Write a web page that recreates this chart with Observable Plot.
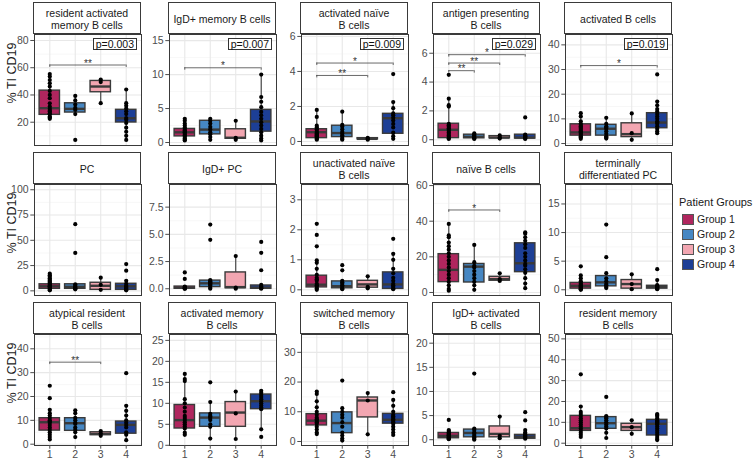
<!DOCTYPE html>
<html>
<head>
<meta charset="utf-8">
<script src="https://cdn.jsdelivr.net/npm/d3@7"></script>
<script src="https://cdn.jsdelivr.net/npm/@observablehq/plot@0.6"></script>
<style>
  body { margin: 0; background: #fff; font-family: "Liberation Sans", Arial, sans-serif; }
  #chart { position: relative; width: 753px; height: 460px; overflow: hidden; background: #fff; }
  .strip { position: absolute; box-sizing: border-box; border: 1px solid #3a3a3a; background: #fff;
           display: flex; align-items: center; justify-content: center; text-align: center;
           font-size: 10.5px; line-height: 12px; color: #1a1a1a; white-space: pre-line; padding-top: 2px; }
  .pbox { position: absolute; box-sizing: border-box; border: 1px solid #333; background: #fff;
          font-size: 10.5px; line-height: 10px; padding: 0 2px; color: #111; white-space: nowrap; }
  .ylab { position: absolute; font-size: 12.5px; color: #1a1a1a; white-space: nowrap;
          transform: translate(-50%, -50%) rotate(-90deg); }
  .legtitle { position: absolute; font-size: 11px; color: #1a1a1a; white-space: nowrap; }
  .legkey { position: absolute; box-sizing: border-box; border: 1px solid #555; width: 12px; height: 11px; }
  .leglab { position: absolute; font-size: 10.5px; color: #1a1a1a; white-space: nowrap; line-height: 11px; }
</style>
</head>
<body>
<div id="chart"></div>
<script>
// ---------------- data ----------------
const groupLabels = ["Group 1", "Group 2", "Group 3", "Group 4"];
const groupColors = ["#b0265e", "#4687c3", "#f2a6b1", "#1d3f96"];
const xTickLabels = ["1", "2", "3", "4"];
const yAxisTitle = "% TI CD19";
const legendTitle = "Patient Groups";

const facetTitles = [
  "resident activated\nmemory B cells", "IgD+ memory B cells", "activated naïve\nB cells",
  "antigen presenting\nB cells", "activated B cells",
  "PC", "IgD+ PC", "unactivated naïve\nB cells", "naïve B cells", "terminally\ndifferentiated PC",
  "atypical resident\nB cells", "activated memory\nB cells", "switched memory\nB cells",
  "IgD+ activated\nB cells", "resident memory\nB cells"
];

const yDomains = [
  [2.9, 84.4], [-0.44, 15.9], [-0.23, 6.11], [-0.4, 7.3], [-0.8, 44.2],
  [-4.6, 105.2], [-0.62, 9.58], [-0.19, 3.51], [-1.7, 60.6], [-1.0, 18.4],
  [-0.55, 46], [-0.05, 26.4], [-1.35, 36], [-1.2, 21.8], [-1.1, 52.1]
];

const yTicks = [
  [20, 40, 60, 80], [0, 5, 10, 15], [0, 2, 4, 6], [0, 2, 4, 6], [0, 10, 20, 30, 40],
  [0, 25, 50, 75, 100], [0, 2.5, 5, 7.5], [0, 1, 2, 3], [0, 20, 40, 60], [0, 5, 10, 15],
  [0, 10, 20, 30, 40], [0, 5, 10, 15, 20, 25], [0, 10, 20, 30], [0, 5, 10, 15, 20], [0, 10, 20, 30, 40, 50]
];

const pLabels = ["p=0.003", "p=0.007", "p=0.009", "p=0.029", "p=0.019",
  null, null, null, null, null, null, null, null, null, null];

// [groupA, groupB, y, stars]
const brackets = [
  [[1, 4, 62, "**"]],
  [[1, 4, 11.0, "*"]],
  [[1, 4, 4.48, "*"], [1, 3, 3.77, "**"]],
  [[1, 2, 4.79, "**"], [1, 3, 5.32, "**"], [1, 4, 5.9, "*"]],
  [[1, 4, 31.6, "*"]],
  [], [], [],
  [[1, 3, 46.3, "*"]],
  [],
  [[1, 3, 34.4, "**"]],
  [], [], [], []
];

// per facet, per group: [lower whisker, Q1, median, Q3, upper whisker]
const boxStats = [
  [[22.5, 25.4, 30.3, 43.2, 55.4], [25.5, 27.1, 29.8, 33.9, 39.3], [34, 42, 46.2, 50.3, 51.3], [7, 19.8, 22.9, 29.1, 44]],
  [[0.3, 0.9, 1.5, 2.0, 3.5], [0.4, 1.2, 1.9, 3.2, 3.5], [0.4, 0.55, 0.7, 1.95, 3.2], [0.3, 1.6, 3.1, 4.8, 10]],
  [[0.1, 0.19, 0.53, 0.7, 1.8], [0.1, 0.25, 0.48, 0.9, 1.7], [0.1, 0.12, 0.15, 0.19, 0.2], [0.15, 0.44, 1.33, 1.58, 2.25]],
  [[0.05, 0.11, 0.69, 1.11, 2.85], [0.05, 0.1, 0.2, 0.35, 0.45], [0.08, 0.1, 0.15, 0.25, 0.3], [0.05, 0.08, 0.15, 0.35, 0.35]],
  [[1.9, 3.2, 4.5, 7.8, 12.3], [2, 3.2, 6, 7.6, 10.4], [1.5, 2.6, 3.8, 8.2, 12.2], [4.2, 6.2, 8.5, 12.3, 17]],
  [[0.5, 2, 4.5, 6.5, 17], [1.5, 2, 4, 6.5, 6.5], [0.5, 1, 5, 8, 13], [0.5, 1, 4.5, 7, 10]],
  [[0, 0, 0.1, 0.2, 0.2], [0, 0.15, 0.5, 0.75, 0.8], [0, 0.05, 0.15, 1.5, 3.0], [0, 0, 0.1, 0.3, 0.35]],
  [[0, 0.08, 0.17, 0.47, 1.0], [0.02, 0.05, 0.12, 0.28, 0.3], [0.05, 0.07, 0.18, 0.3, 0.45], [0.02, 0.03, 0.18, 0.58, 1.2]],
  [[1, 5.8, 12.7, 21.5, 38.5], [1.5, 5.6, 14.5, 16, 26.7], [6.5, 6.6, 7.5, 8.8, 10.8], [2.4, 11.4, 16.4, 27.6, 33.8]],
  [[0, 0.2, 0.7, 1.2, 2.5], [0.3, 0.6, 1.3, 2.4, 2.9], [0.1, 0.2, 1.0, 1.7, 2.7], [0.1, 0.2, 0.5, 0.7, 1.7]],
  [[2, 5.7, 9.2, 10.9, 14.4], [3, 5.6, 8.8, 10.9, 14.2], [3.5, 3.8, 4.3, 5.0, 5.5], [1.7, 4.4, 8.1, 9.5, 16.1]],
  [[2.5, 4.0, 6.0, 9.6, 17], [1.6, 4.4, 6.6, 7.6, 10.3], [1.5, 4.4, 7.8, 10.3, 12.8], [3.8, 8.6, 10.5, 12.1, 13]],
  [[2.5, 5.4, 7.0, 9.2, 16.8], [0.3, 2.8, 6.2, 9.8, 11.2], [2.4, 8.1, 13.8, 14.8, 16.3], [2.2, 6.0, 7.3, 9.3, 14]],
  [[0.1, 0.3, 0.8, 1.4, 2], [0, 0.5, 1.4, 2.1, 2.4], [0.3, 0.5, 1.2, 2.75, 4.8], [0.2, 0.2, 0.6, 1.0, 1.5]],
  [[3, 5.9, 7.2, 13.1, 17.6], [2.5, 6.9, 9.6, 12.5, 13], [4.5, 5.9, 7.7, 9.3, 11], [1.5, 3.7, 9.3, 11.2, 14]]
];

// per facet, per group: individual patient values
const pointValues = [
  [[55.4, 53.5, 51, 48.6, 46.2, 43, 40, 37.6, 33.9, 31.5, 29.8, 28.5, 27.8, 26.5, 25.9, 24.2, 23.5, 22.5],
   [39.3, 36, 33, 30.5, 29, 26, 7], [51.3, 49.5, 34],
   [44, 34, 32, 30, 28, 26, 23, 21.8, 19.5, 16, 13, 10, 7]],
  [[3.5, 3.2, 2.8, 2.5, 2.2, 2.0, 1.8, 1.6, 1.5, 1.3, 1.1, 1.0, 0.8, 0.6, 0.4, 0.3],
   [3.5, 3.2, 2.8, 2.3, 1.9, 1.5, 1.2, 0.8, 0.4], [3.2, 0.7, 0.4],
   [10, 6.7, 6.0, 5.2, 4.5, 4.0, 3.5, 3.0, 2.5, 2.0, 1.5, 1.0, 0.6, 0.3]],
  [[1.8, 1.4, 0.9, 0.8, 0.7, 0.6, 0.5, 0.45, 0.4, 0.35, 0.3, 0.25, 0.2, 0.15, 0.1],
   [1.7, 0.95, 0.85, 0.7, 0.55, 0.45, 0.35, 0.25, 0.15, 0.1], [0.2, 0.15, 0.1],
   [3.85, 2.25, 1.9, 1.6, 1.5, 1.35, 1.2, 1.0, 0.8, 0.5, 0.3, 0.15]],
  [[4.5, 2.85, 2.4, 2.3, 1.1, 1.0, 0.9, 0.8, 0.7, 0.6, 0.5, 0.4, 0.3, 0.2, 0.1, 0.05],
   [0.45, 0.35, 0.3, 0.2, 0.15, 0.1, 0.05], [0.3, 0.15, 0.08],
   [1.55, 0.35, 0.3, 0.25, 0.2, 0.15, 0.1, 0.05]],
  [[12.3, 11, 9, 8, 7.5, 7, 6.5, 6, 5.5, 5, 4.5, 4, 3.5, 3, 2.5, 1.9],
   [10.4, 8, 7, 6.5, 6, 5, 4, 3, 2.5, 2], [12.2, 4.2, 1.5],
   [28, 17, 15.5, 14, 13, 12, 11, 10, 9, 8.5, 8, 7, 6, 5, 4.2]],
  [[17, 15.5, 14, 12.5, 11, 10, 9, 8, 7, 6, 5, 4.5, 4, 3, 2, 1, 0.5],
   [66, 37.5, 6.5, 5, 4, 3, 2.5, 2, 1.5], [13, 6, 1],
   [26.5, 20, 10, 7, 5, 4, 3, 2, 1, 0.5]],
  [[1.5, 0.9, 0.2, 0.15, 0.1, 0.05, 0, 0],
   [5.9, 4.5, 0.8, 0.7, 0.6, 0.5, 0.4, 0.3, 0.1, 0], [3.0, 0.1, 0],
   [4.3, 3.3, 1.7, 0.35, 0.2, 0.1, 0.05, 0]],
  [[2.2, 1.83, 1.45, 0.98, 0.9, 0.7, 0.5, 0.4, 0.35, 0.3, 0.2, 0.15, 0.1, 0.05, 0],
   [0.82, 0.65, 0.3, 0.25, 0.2, 0.15, 0.1, 0.05, 0.02], [0.45, 0.1, 0.05],
   [1.7, 1.2, 1.0, 0.7, 0.55, 0.4, 0.3, 0.2, 0.15, 0.1, 0.05, 0.02]],
  [[38.5, 32, 31, 28, 26, 24, 22, 20, 18, 16, 14, 12, 10, 8, 6, 4, 2, 1],
   [26.7, 17, 15, 14, 12, 10, 8, 6, 4, 1.5], [10.8, 7.5, 6.5],
   [33.8, 33, 31, 29, 27, 25, 22, 20, 18, 16, 15, 13, 11, 8, 5, 2.4]],
  [[4.1, 2.5, 2.0, 1.5, 1.2, 1.0, 0.8, 0.6, 0.4, 0.3, 0.2, 0.1, 0],
   [11.4, 5.7, 2.9, 2.0, 1.5, 1.0, 0.8, 0.5, 0.3], [2.7, 1.0, 0.1],
   [3.6, 1.7, 0.8, 0.6, 0.5, 0.4, 0.3, 0.2, 0.1]],
  [[24.5, 19.3, 14.4, 13, 12, 11, 10, 9.5, 9, 8, 7, 6, 5, 4, 3, 2],
   [14.2, 13, 11, 10, 9, 8.5, 7, 6, 5, 3], [5.5, 4.5, 3.5],
   [29.8, 16.1, 14, 12, 10, 9, 8, 7, 5, 4, 1.7]],
  [[17, 15.8, 15.3, 11, 10, 9, 8, 7, 6.5, 6, 5.5, 5, 4.5, 4, 3, 2.5],
   [15, 10.3, 7.5, 7, 6.8, 6.5, 6, 5, 4.4, 1.6], [12.8, 7.6, 1.5],
   [13, 12.5, 12, 11.5, 11, 10.5, 10, 9.5, 9, 8.6, 3.8, 2.0]],
  [[16.8, 16, 13.5, 11.5, 10, 9, 8, 7.5, 7, 6.5, 6, 5, 4, 3, 2.5],
   [20.5, 11.2, 10, 9, 8, 6.5, 5, 3, 2, 1, 0.3], [16.3, 13.8, 2.4],
   [16.6, 14, 12, 10, 9, 8.5, 8, 7.5, 7, 6.5, 6, 5, 4, 3, 2.2]],
  [[4.1, 2, 1.8, 1.5, 1.3, 1.1, 0.9, 0.8, 0.6, 0.5, 0.3, 0.2, 0.1],
   [13.7, 2.3, 2.0, 1.5, 1.2, 0.8, 0.5, 0.2, 0], [4.8, 0.8, 0.3],
   [5.7, 4.0, 2, 1.5, 1.2, 1.0, 0.8, 0.6, 0.4, 0.2]],
  [[33, 17.6, 15, 14, 13, 12, 11, 10, 9, 8, 7, 6, 5, 4, 3],
   [22.2, 13, 12.5, 12, 11, 10, 9, 8, 7, 5, 2.5], [11, 7.7, 4.5],
   [14, 13.5, 13, 12, 11, 10.5, 10, 9.5, 9, 8, 7, 6, 5, 4, 3, 2, 1.5]]
];

// ---------------- layout ----------------
const colLeft = [33, 168, 300, 432, 564];
const rowTop = [33, 183, 333];
const PW = 107, PH = 111, STRIP = 31;
const ML = 36, MR = 2, MT = 2;
const BOXW = 0.4;
const lineCol = "#3a3a3a";
const chart = document.getElementById("chart");

function el(cls, text, css) {
  const d = document.createElement("div");
  d.className = cls;
  if (text != null) d.textContent = text;
  Object.assign(d.style, css);
  chart.appendChild(d);
  return d;
}

facetTitles.forEach((title, i) => {
  const c = i % 5, r = Math.floor(i / 5);
  const left = colLeft[c], top = rowTop[r];
  const bottomRow = r === 2;
  const MB = bottomRow ? 22 : 2;

  el("strip", title, {left: left + "px", top: (top - STRIP) + "px", width: (PW + 1) + "px", height: (STRIP + 1) + "px"});

  const [d0, d1] = yDomains[i];
  const ticks = yTicks[i];
  const step = ticks[1] - ticks[0];
  const minor = [];
  for (let k = -1; k < ticks.length; k++) {
    const m = ticks[0] + (k + 0.5) * step;
    if (m > d0 && m < d1) minor.push(m);
  }
  const fmt = ticks.some(t => !Number.isInteger(t)) ? (t => t.toFixed(1)) : (t => String(t));
  const boxes = boxStats[i].map((s, g) => ({g: g + 1, lo: s[0], q1: s[1], med: s[2], q3: s[3], hi: s[4], color: groupColors[g]}));
  const pts = pointValues[i].flatMap((arr, g) => arr.map(v => ({g: g + 1, v})));
  const br = brackets[i].map(([a, b, y, label]) => ({a, b, y, label}));
  const tickLen = (d1 - d0) * 0.022;

  const svg = Plot.plot({
    width: ML + PW + MR,
    height: MT + PH + MB,
    marginLeft: ML, marginRight: MR, marginTop: MT, marginBottom: MB,
    x: {domain: [0.4, 4.6], axis: null},
    y: {domain: [d0, d1], axis: null},
    color: {type: "identity"},
    style: {background: "transparent", fontFamily: "'Liberation Sans', Arial, sans-serif", fontSize: "10.5px", overflow: "visible"},
    marks: [
      Plot.gridY(minor, {stroke: "#f2f2f2", strokeOpacity: 1, strokeWidth: 0.6}),
      Plot.gridY(ticks, {stroke: "#e8e8e8", strokeOpacity: 1, strokeWidth: 1.1}),
      Plot.gridX([1, 2, 3, 4], {stroke: "#e8e8e8", strokeOpacity: 1, strokeWidth: 1.1}),
      Plot.ruleX(boxes, {x: "g", y1: "lo", y2: "hi", stroke: lineCol, strokeWidth: 1.1}),
      Plot.rect(boxes, {x1: d => d.g - BOXW, x2: d => d.g + BOXW, y1: "q1", y2: "q3", fill: "color", stroke: lineCol, strokeWidth: 1.4}),
      Plot.ruleY(boxes, {x1: d => d.g - BOXW, x2: d => d.g + BOXW, y: "med", stroke: lineCol, strokeWidth: 2.4}),
      Plot.dot(pts, {x: "g", y: "v", r: 2.1, fill: "#000"}),
      Plot.ruleY(br, {x1: "a", x2: "b", y: "y", stroke: "#444", strokeWidth: 0.8}),
      Plot.ruleX(br, {x: "a", y1: d => d.y - tickLen, y2: "y", stroke: "#444", strokeWidth: 0.8}),
      Plot.ruleX(br, {x: "b", y1: d => d.y - tickLen, y2: "y", stroke: "#444", strokeWidth: 0.8}),
      Plot.text(br, {x: d => (d.a + d.b) / 2, y: "y", text: "label", dy: -1.5, fontSize: 10, fill: "#333"}),
      Plot.frame({stroke: lineCol, strokeWidth: 1}),
      Plot.axisY(ticks, {tickSize: 3.7, tickPadding: 2.2, tickFormat: fmt, color: "#4d4d4d", fontSize: 10.5, label: null}),
      bottomRow ? Plot.axisX([1, 2, 3, 4], {tickSize: 3.7, tickPadding: 1.5, tickFormat: d => xTickLabels[d - 1], color: "#4d4d4d", fontSize: 10.5, label: null}) : null
    ]
  });
  svg.style.position = "absolute";
  svg.style.left = (left - ML + 0.5) + "px";
  svg.style.top = (top - MT + 0.5) + "px";
  svg.style.maxWidth = "none";
  chart.appendChild(svg);

  if (pLabels[i]) {
    el("pbox", pLabels[i], {right: (753 - (left + PW - 3)) + "px", top: (top + 5) + "px"});
  }
});

// y axis titles, one per row
rowTop.forEach(t => {
  el("ylab", yAxisTitle, {left: "12px", top: ((t - STRIP + t + PH) / 2) + "px"});
});

// legend
el("legtitle", legendTitle, {left: "679px", top: "196px"});
groupLabels.forEach((g, k) => {
  const y = 214 + k * 15;
  el("legkey", null, {left: "682px", top: y + "px", background: groupColors[k]});
  el("leglab", g, {left: "697px", top: y + "px"});
});
</script>
</body>
</html>
